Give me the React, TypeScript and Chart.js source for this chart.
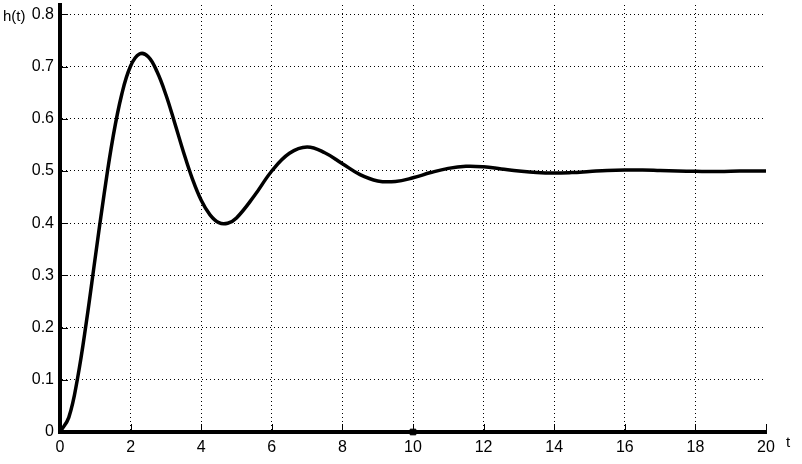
import React, { useEffect, useRef } from "react";
import { Chart, registerables } from "chart.js";

Chart.register(...registerables);

const tValues = [
  0, 0.25, 0.5, 0.75, 1, 1.25, 1.5, 1.75, 2, 2.25, 2.5, 2.75, 3, 3.25, 3.5, 3.75,
  4, 4.25, 4.5, 4.75, 5, 5.5, 6, 6.5, 7, 7.5, 8, 8.5, 9, 9.5, 10, 10.5, 11, 11.5,
  12, 12.5, 13, 13.5, 14, 14.5, 15, 15.5, 16, 16.5, 17, 17.5, 18, 18.5, 19, 19.5, 20,
];
const hValues = [
  0, 0.028, 0.104, 0.212, 0.335, 0.456, 0.564, 0.647, 0.701, 0.724, 0.719, 0.69,
  0.646, 0.592, 0.536, 0.485, 0.444, 0.416, 0.401, 0.4, 0.41, 0.452, 0.5, 0.534,
  0.546, 0.535, 0.514, 0.493, 0.481, 0.48, 0.487, 0.497, 0.505, 0.509, 0.508,
  0.504, 0.5, 0.497, 0.496, 0.497, 0.499, 0.501, 0.502, 0.502, 0.501, 0.5, 0.4995,
  0.499, 0.4995, 0.5, 0.5,
];
const xTicks = [0, 2, 4, 6, 8, 10, 12, 14, 16, 18, 20];
const yTicks = [0, 0.1, 0.2, 0.3, 0.4, 0.5, 0.6, 0.7, 0.8];
const markerPoints = [{ x: 10, y: 0 }];

const FONT = "'Liberation Sans', Arial, Helvetica, sans-serif";

const innerTicks = {
  id: "innerTicks",
  beforeDatasetsDraw(chart: any) {
    const { ctx, chartArea, scales } = chart;
    ctx.save();
    ctx.strokeStyle = "#000";
    ctx.lineWidth = 1;
    ctx.setLineDash([]);
    xTicks.forEach((v) => {
      const px = Math.round(scales.x.getPixelForValue(v)) + 0.5;
      ctx.beginPath();
      ctx.moveTo(px, chartArea.bottom);
      ctx.lineTo(px, chartArea.bottom - 8);
      ctx.stroke();
    });
    yTicks.forEach((v) => {
      const py = Math.round(scales.y.getPixelForValue(v)) + 0.5;
      ctx.beginPath();
      ctx.moveTo(chartArea.left, py);
      ctx.lineTo(chartArea.left + 8, py);
      ctx.stroke();
    });
    ctx.restore();
  },
};

export default function App() {
  const ref = useRef<HTMLCanvasElement | null>(null);
  useEffect(() => {
    if (!ref.current) return;
    const chart = new Chart(ref.current, {
      type: "line",
      data: {
        datasets: [
          {
            data: tValues.map((t, i) => ({ x: t, y: hValues[i] })),
            borderColor: "#000",
            borderWidth: 3.5,
            pointRadius: 0,
            tension: 0.4,
            fill: false,
            clip: false as any,
          },
          {
            type: "scatter" as any,
            data: markerPoints,
            pointStyle: "rect",
            pointRadius: 4,
            backgroundColor: "#000",
            borderColor: "#000",
            clip: false as any,
          },
        ],
      },
      plugins: [innerTicks],
      options: {
        animation: false,
        responsive: false,
        layout: { padding: { top: 4, right: 36, left: 0, bottom: 0 } },
        plugins: { legend: { display: false }, tooltip: { enabled: false } },
        scales: {
          x: {
            type: "linear",
            min: 0,
            max: 20,
            afterBuildTicks: (s: any) => {
              s.ticks = xTicks.map((v) => ({ value: v }));
            },
            afterFit: (s: any) => {
              s.height = 32;
              s.paddingLeft = 0;
              s.paddingRight = 0;
            },
            ticks: {
              color: "#000",
              font: { family: FONT, size: 16 },
              padding: 6,
              maxRotation: 0,
              autoSkip: false,
            },
            grid: {
              drawTicks: false,
              color: (c: any) =>
                c.tick && (c.tick.value === 20 || c.tick.value === 0) ? "rgba(0,0,0,0)" : "#000",
              lineWidth: 1,
            },
            border: { display: true, color: "#000", width: 4, dash: [1, 3] },
          } as any,
          y: {
            type: "linear",
            min: 0,
            max: 0.818,
            afterBuildTicks: (s: any) => {
              s.ticks = yTicks.map((v) => ({ value: v }));
            },
            afterFit: (s: any) => {
              s.width = 60;
              s.paddingTop = 0;
              s.paddingBottom = 0;
            },
            ticks: {
              color: "#000",
              font: { family: FONT, size: 16 },
              padding: 6,
              callback: (v: any) => String(Math.round(Number(v) * 10) / 10),
            },
            grid: {
              drawTicks: false,
              color: (c: any) => (c.tick && c.tick.value === 0 ? "rgba(0,0,0,0)" : "#000"),
              lineWidth: 1,
            },
            border: { display: true, color: "#000", width: 4, dash: [1, 3] },
          } as any,
        },
      },
    });
    return () => chart.destroy();
  }, []);
  return (
    <div style={{ position: "absolute", left: 0, top: 0, width: 802, height: 464, background: "#fff" }}>
      <canvas ref={ref} width={802} height={464} style={{ display: "block", width: 802, height: 464 }} />
      <span
        style={{
          position: "absolute",
          left: 3,
          top: 8,
          fontFamily: FONT,
          fontSize: 15,
          color: "#000",
          lineHeight: "16px",
        }}
      >
        h(t)
      </span>
      <span
        style={{
          position: "absolute",
          left: 786,
          top: 434,
          fontFamily: FONT,
          fontSize: 15,
          color: "#000",
          lineHeight: "16px",
        }}
      >
        t
      </span>
    </div>
  );
}
